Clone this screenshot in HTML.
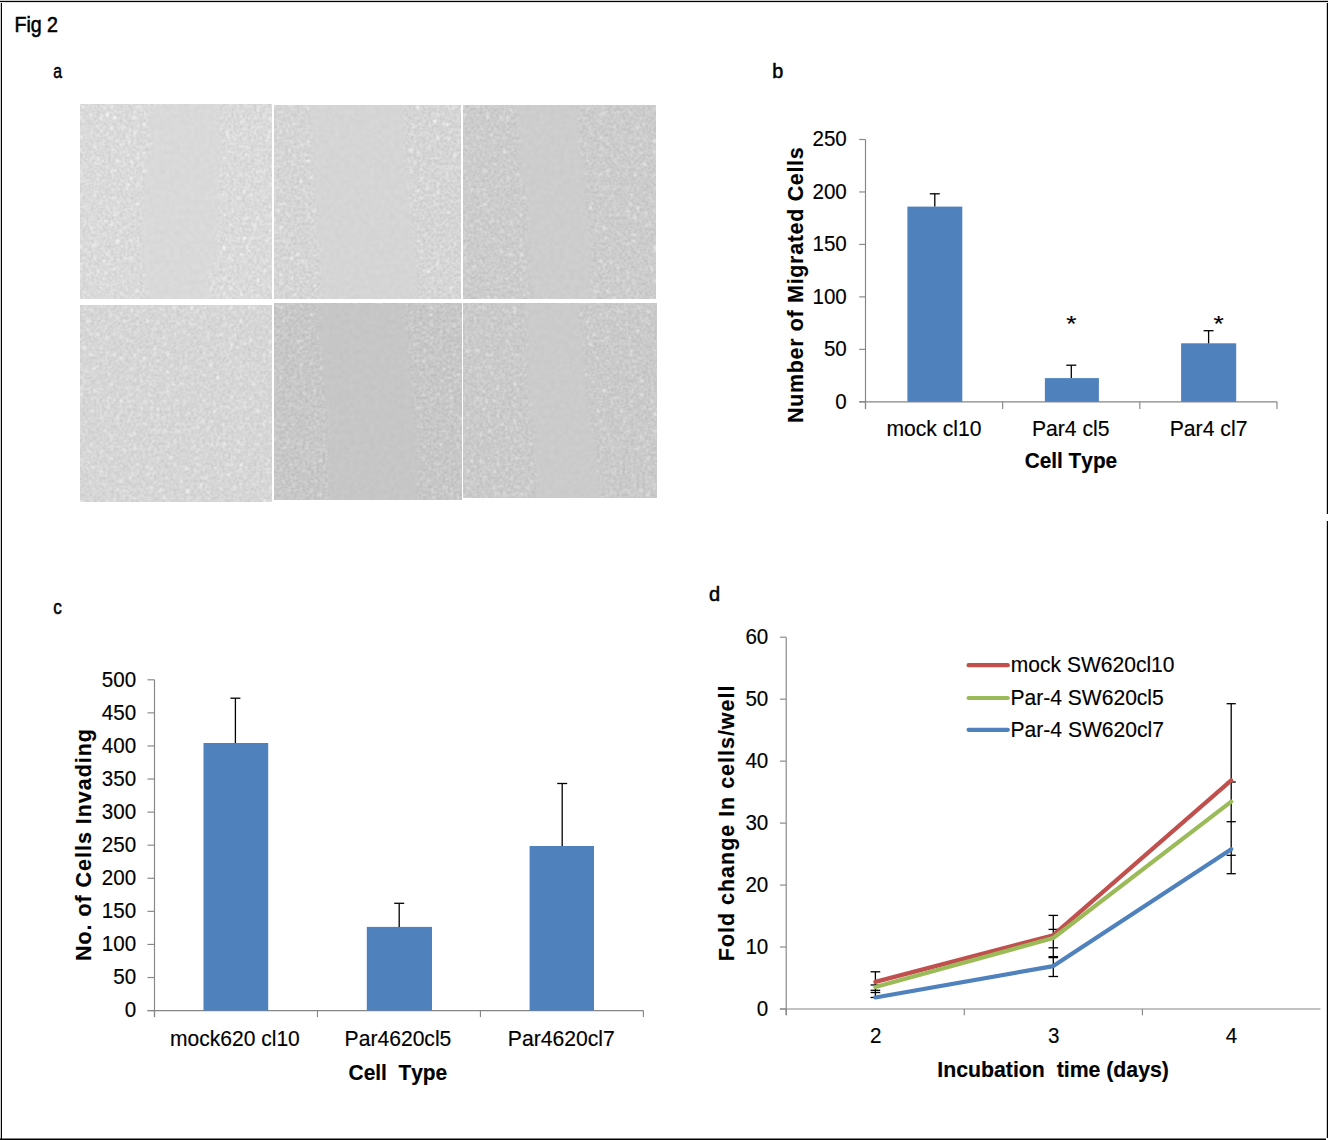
<!DOCTYPE html>
<html><head><meta charset="utf-8"><style>
html,body{margin:0;padding:0;background:#fff;overflow:hidden;}
svg{display:block;}
text{font-family:"Liberation Sans", sans-serif;fill:#000;font-kerning:none;stroke:#000;stroke-width:0.15px;}
.lbl text{stroke-width:0.55px;}
</style></head><body>
<svg width="1328" height="1140" viewBox="0 0 1328 1140">
<rect x="0" y="0" width="1328" height="1140" fill="#fff"/>

<g fill="#000">
<rect x="0" y="0.8" width="1328" height="1.3"/>
<rect x="0.8" y="3" width="1.2" height="1137"/>
<rect x="1326.8" y="3" width="1.2" height="511"/>
<rect x="1326.8" y="521" width="1.2" height="617"/>
<rect x="0" y="1138.5" width="1326" height="1.5"/>
</g>
<g class="lbl">
<text x="-1.76" y="0" font-size="21.5" letter-spacing="0.000" transform="translate(16.00,31.80) scale(0.9121,1)">Fig 2</text>
<text x="-0.87" y="0" font-size="20.5" letter-spacing="0.000" transform="translate(53.90,78.30) scale(0.7692,1)">a</text>
<text x="-1.32" y="0" font-size="20.5" letter-spacing="0.000" transform="translate(773.60,78.30) scale(0.9654,1)">b</text>
<text x="-0.87" y="0" font-size="20.5" letter-spacing="0.000" transform="translate(53.90,614.30) scale(0.8372,1)">c</text>
<text x="-0.86" y="0" font-size="20.5" letter-spacing="0.000" transform="translate(709.90,601.10) scale(0.9762,1)">d</text>
</g>
<defs>
<filter id="soft" x="-10%" y="-10%" width="120%" height="120%"><feGaussianBlur stdDeviation="2.5"/></filter>
<filter id="tx0" x="0" y="0" width="100%" height="100%" color-interpolation-filters="sRGB"><feTurbulence type="fractalNoise" baseFrequency="0.35" numOctaves="2" seed="3" result="n1"/><feColorMatrix in="n1" type="matrix" values="0.130 0 0 0 0.7852  0.130 0 0 0 0.7852  0.130 0 0 0 0.7852  0 0 0 0 1" result="base"/><feTurbulence type="fractalNoise" baseFrequency="0.3" numOctaves="1" seed="10" result="n2"/><feColorMatrix in="n2" type="matrix" values="0 0 0 0 1  0 0 0 0 1  0 0 0 0 1  5 0 0 0 -3.1" result="spk0"/><feGaussianBlur in="spk0" stdDeviation="0.9" result="spk"/><feComposite in="spk" in2="base" operator="arithmetic" k1="0" k2="0.2" k3="1" k4="0" result="c"/></filter>
<filter id="gp0" x="0" y="0" width="100%" height="100%" color-interpolation-filters="sRGB"><feTurbulence type="fractalNoise" baseFrequency="0.2" numOctaves="2" seed="53"/><feColorMatrix type="matrix" values="0.040 0 0 0 0.8310  0.040 0 0 0 0.8310  0.040 0 0 0 0.8310  0 0 0 0 1"/></filter>
<mask id="cp0" maskUnits="userSpaceOnUse" x="80" y="104.5" width="191.5" height="194.2"><polygon points="151,100 216,100 219.5,150 217.5,200 215,250 206,280 210,303 150,303 143.5,250 144,190 151.5,150" fill="#fff" filter="url(#soft)"/></mask>
<filter id="tx1" x="0" y="0" width="100%" height="100%" color-interpolation-filters="sRGB"><feTurbulence type="fractalNoise" baseFrequency="0.35" numOctaves="2" seed="5" result="n1"/><feColorMatrix in="n1" type="matrix" values="0.130 0 0 0 0.7656  0.130 0 0 0 0.7656  0.130 0 0 0 0.7656  0 0 0 0 1" result="base"/><feTurbulence type="fractalNoise" baseFrequency="0.3" numOctaves="1" seed="12" result="n2"/><feColorMatrix in="n2" type="matrix" values="0 0 0 0 1  0 0 0 0 1  0 0 0 0 1  5 0 0 0 -3.1" result="spk0"/><feGaussianBlur in="spk0" stdDeviation="0.9" result="spk"/><feComposite in="spk" in2="base" operator="arithmetic" k1="0" k2="0.2" k3="1" k4="0" result="c"/></filter>
<filter id="gp1" x="0" y="0" width="100%" height="100%" color-interpolation-filters="sRGB"><feTurbulence type="fractalNoise" baseFrequency="0.2" numOctaves="2" seed="55"/><feColorMatrix type="matrix" values="0.040 0 0 0 0.8153  0.040 0 0 0 0.8153  0.040 0 0 0 0.8153  0 0 0 0 1"/></filter>
<mask id="cp1" maskUnits="userSpaceOnUse" x="274.5" y="105.4" width="186.5" height="193.3"><polygon points="310.2,100 400.5,100 404,150 408.4,200 414.6,250 416.3,303 323.3,303 320.7,250 316.3,200 312.8,150" fill="#fff" filter="url(#soft)"/></mask>
<filter id="tx2" x="0" y="0" width="100%" height="100%" color-interpolation-filters="sRGB"><feTurbulence type="fractalNoise" baseFrequency="0.35" numOctaves="2" seed="7" result="n1"/><feColorMatrix in="n1" type="matrix" values="0.130 0 0 0 0.7303  0.130 0 0 0 0.7303  0.130 0 0 0 0.7303  0 0 0 0 1" result="base"/><feTurbulence type="fractalNoise" baseFrequency="0.3" numOctaves="1" seed="14" result="n2"/><feColorMatrix in="n2" type="matrix" values="0 0 0 0 1  0 0 0 0 1  0 0 0 0 1  5 0 0 0 -3.1" result="spk0"/><feGaussianBlur in="spk0" stdDeviation="0.9" result="spk"/><feComposite in="spk" in2="base" operator="arithmetic" k1="0" k2="0.2" k3="1" k4="0" result="c"/></filter>
<filter id="gp2" x="0" y="0" width="100%" height="100%" color-interpolation-filters="sRGB"><feTurbulence type="fractalNoise" baseFrequency="0.2" numOctaves="2" seed="57"/><feColorMatrix type="matrix" values="0.040 0 0 0 0.7839  0.040 0 0 0 0.7839  0.040 0 0 0 0.7839  0 0 0 0 1"/></filter>
<mask id="cp2" maskUnits="userSpaceOnUse" x="463" y="105.4" width="193" height="193.4"><polygon points="519,100 576,100 579.5,150 584.7,200 590,250 590.9,303 533.9,303 529.5,250 527.7,200 520.7,150" fill="#fff" filter="url(#soft)"/></mask>
<filter id="tx3" x="0" y="0" width="100%" height="100%" color-interpolation-filters="sRGB"><feTurbulence type="fractalNoise" baseFrequency="0.35" numOctaves="2" seed="9" result="n1"/><feColorMatrix in="n1" type="matrix" values="0.120 0 0 0 0.7745  0.120 0 0 0 0.7745  0.120 0 0 0 0.7745  0 0 0 0 1" result="base"/><feTurbulence type="fractalNoise" baseFrequency="0.3" numOctaves="1" seed="16" result="n2"/><feColorMatrix in="n2" type="matrix" values="0 0 0 0 1  0 0 0 0 1  0 0 0 0 1  5 0 0 0 -3.1" result="spk0"/><feGaussianBlur in="spk0" stdDeviation="0.9" result="spk"/><feComposite in="spk" in2="base" operator="arithmetic" k1="0" k2="0.2" k3="1" k4="0" result="c"/></filter>
<filter id="tx4" x="0" y="0" width="100%" height="100%" color-interpolation-filters="sRGB"><feTurbulence type="fractalNoise" baseFrequency="0.35" numOctaves="2" seed="11" result="n1"/><feColorMatrix in="n1" type="matrix" values="0.130 0 0 0 0.7107  0.130 0 0 0 0.7107  0.130 0 0 0 0.7107  0 0 0 0 1" result="base"/><feTurbulence type="fractalNoise" baseFrequency="0.3" numOctaves="1" seed="18" result="n2"/><feColorMatrix in="n2" type="matrix" values="0 0 0 0 1  0 0 0 0 1  0 0 0 0 1  5 0 0 0 -3.1" result="spk0"/><feGaussianBlur in="spk0" stdDeviation="0.9" result="spk"/><feComposite in="spk" in2="base" operator="arithmetic" k1="0" k2="0.2" k3="1" k4="0" result="c"/></filter>
<filter id="gp4" x="0" y="0" width="100%" height="100%" color-interpolation-filters="sRGB"><feTurbulence type="fractalNoise" baseFrequency="0.2" numOctaves="2" seed="61"/><feColorMatrix type="matrix" values="0.040 0 0 0 0.7565  0.040 0 0 0 0.7565  0.040 0 0 0 0.7565  0 0 0 0 1"/></filter>
<mask id="cp4" maskUnits="userSpaceOnUse" x="274.4" y="303.8" width="187.4" height="195.8"><polygon points="317.8,299 402,299 407.3,350 412.5,400 417.8,450 417.8,504 331.8,504 330,450 327.5,400 321.3,350" fill="#fff" filter="url(#soft)"/></mask>
<filter id="tx5" x="0" y="0" width="100%" height="100%" color-interpolation-filters="sRGB"><feTurbulence type="fractalNoise" baseFrequency="0.35" numOctaves="2" seed="13" result="n1"/><feColorMatrix in="n1" type="matrix" values="0.130 0 0 0 0.7225  0.130 0 0 0 0.7225  0.130 0 0 0 0.7225  0 0 0 0 1" result="base"/><feTurbulence type="fractalNoise" baseFrequency="0.3" numOctaves="1" seed="20" result="n2"/><feColorMatrix in="n2" type="matrix" values="0 0 0 0 1  0 0 0 0 1  0 0 0 0 1  5 0 0 0 -3.1" result="spk0"/><feGaussianBlur in="spk0" stdDeviation="0.9" result="spk"/><feComposite in="spk" in2="base" operator="arithmetic" k1="0" k2="0.2" k3="1" k4="0" result="c"/></filter>
<filter id="gp5" x="0" y="0" width="100%" height="100%" color-interpolation-filters="sRGB"><feTurbulence type="fractalNoise" baseFrequency="0.2" numOctaves="2" seed="63"/><feColorMatrix type="matrix" values="0.040 0 0 0 0.7761  0.040 0 0 0 0.7761  0.040 0 0 0 0.7761  0 0 0 0 1"/></filter>
<mask id="cp5" maskUnits="userSpaceOnUse" x="463.1" y="303.8" width="193.4" height="194"><polygon points="526.4,299 578.4,299 585.7,400 592,430 597.6,480 598.5,502 538,502 535.2,430 530,400" fill="#fff" filter="url(#soft)"/></mask>
</defs>
<rect x="80" y="104.5" width="191.5" height="194.2" filter="url(#tx0)"/>
<g mask="url(#cp0)"><rect x="80" y="104.5" width="191.5" height="194.2" filter="url(#gp0)"/></g>
<rect x="274.5" y="105.4" width="186.5" height="193.3" filter="url(#tx1)"/>
<g mask="url(#cp1)"><rect x="274.5" y="105.4" width="186.5" height="193.3" filter="url(#gp1)"/></g>
<rect x="463" y="105.4" width="193" height="193.4" filter="url(#tx2)"/>
<g mask="url(#cp2)"><rect x="463" y="105.4" width="193" height="193.4" filter="url(#gp2)"/></g>
<rect x="80.5" y="305.3" width="191.1" height="196.1" filter="url(#tx3)"/>
<rect x="274.4" y="303.8" width="187.4" height="195.8" filter="url(#tx4)"/>
<g mask="url(#cp4)"><rect x="274.4" y="303.8" width="187.4" height="195.8" filter="url(#gp4)"/></g>
<rect x="463.1" y="303.8" width="193.4" height="194" filter="url(#tx5)"/>
<g mask="url(#cp5)"><rect x="463.1" y="303.8" width="193.4" height="194" filter="url(#gp5)"/></g>
<g stroke="#868686" stroke-width="1.15" fill="none">
<line x1="865.5" y1="139.5" x2="865.5" y2="409.1"/>
<line x1="859.2" y1="401.8" x2="1277" y2="401.8"/>
<line x1="859.2" y1="401.80" x2="865.5" y2="401.80"/>
<line x1="859.2" y1="349.34" x2="865.5" y2="349.34"/>
<line x1="859.2" y1="296.88" x2="865.5" y2="296.88"/>
<line x1="859.2" y1="244.42" x2="865.5" y2="244.42"/>
<line x1="859.2" y1="191.96" x2="865.5" y2="191.96"/>
<line x1="859.2" y1="139.50" x2="865.5" y2="139.50"/>
<line x1="865.50" y1="401.8" x2="865.50" y2="409.1"/>
<line x1="1002.67" y1="401.8" x2="1002.67" y2="409.1"/>
<line x1="1139.83" y1="401.8" x2="1139.83" y2="409.1"/>
<line x1="1277.00" y1="401.8" x2="1277.00" y2="409.1"/>
</g>
<rect x="907.4" y="206.6" width="54.90" height="195.20" fill="#4F81BD"/>
<g stroke="#000" stroke-width="1.3"><line x1="934.80" y1="193.80" x2="934.80" y2="206.60"/>
<line x1="929.80" y1="193.80" x2="939.80" y2="193.80"/>
</g>
<rect x="1044.9" y="378.1" width="54.00" height="23.70" fill="#4F81BD"/>
<g stroke="#000" stroke-width="1.3"><line x1="1071.30" y1="365.20" x2="1071.30" y2="378.10"/>
<line x1="1066.30" y1="365.20" x2="1076.30" y2="365.20"/>
</g>
<rect x="1181.1" y="343.3" width="55.10" height="58.50" fill="#4F81BD"/>
<g stroke="#000" stroke-width="1.3"><line x1="1208.60" y1="330.70" x2="1208.60" y2="343.30"/>
<line x1="1203.60" y1="330.70" x2="1213.60" y2="330.70"/>
</g>
<text x="-0.88" y="0" font-size="22.5" letter-spacing="0.000" transform="translate(836.16,408.60) scale(0.9150,1)">0</text>
<text x="-0.90" y="0" font-size="22.5" letter-spacing="0.000" transform="translate(824.73,356.14) scale(0.9150,1)">50</text>
<text x="-1.71" y="0" font-size="22.5" letter-spacing="0.000" transform="translate(814.02,303.68) scale(0.9150,1)">100</text>
<text x="-1.71" y="0" font-size="22.5" letter-spacing="0.000" transform="translate(814.02,251.22) scale(0.9150,1)">150</text>
<text x="-1.13" y="0" font-size="22.5" letter-spacing="0.000" transform="translate(813.49,198.76) scale(0.9150,1)">200</text>
<text x="-1.13" y="0" font-size="22.5" letter-spacing="0.000" transform="translate(813.49,146.30) scale(0.9150,1)">250</text>
<text x="-1.43" y="0" font-size="21.5" letter-spacing="0.000" transform="translate(887.90,436.00) scale(0.9819,1)">mock cl10</text>
<text x="-1.76" y="0" font-size="21.5" letter-spacing="0.000" transform="translate(1033.60,436.00) scale(0.9842,1)">Par4 cl5</text>
<text x="-1.76" y="0" font-size="21.5" letter-spacing="0.000" transform="translate(1171.40,436.00) scale(0.9865,1)">Par4 cl7</text>
<text x="-0.88" y="0" font-size="21.5" font-weight="bold" letter-spacing="0.000" transform="translate(1025.50,468.00) scale(0.9684,1)">Cell Type</text>
<text x="-1.44" y="0" font-size="21.5" font-weight="bold" letter-spacing="0.665" transform="translate(803.20,421.60) rotate(-90) scale(1.0000,1)">Number of Migrated Cells</text>
<text x="-0.35" y="0" font-size="21.5" letter-spacing="0.000" transform="translate(1066.60,330.50) scale(1.2232,1)">*</text>
<text x="-0.35" y="0" font-size="21.5" letter-spacing="0.000" transform="translate(1213.90,330.50) scale(1.2232,1)">*</text>
<g stroke="#868686" stroke-width="1.15" fill="none">
<line x1="154.5" y1="679.8" x2="154.5" y2="1017.1"/>
<line x1="147.5" y1="1010.6" x2="643.4" y2="1010.6"/>
<line x1="147.5" y1="1010.60" x2="154.5" y2="1010.60"/>
<line x1="147.5" y1="977.52" x2="154.5" y2="977.52"/>
<line x1="147.5" y1="944.44" x2="154.5" y2="944.44"/>
<line x1="147.5" y1="911.36" x2="154.5" y2="911.36"/>
<line x1="147.5" y1="878.28" x2="154.5" y2="878.28"/>
<line x1="147.5" y1="845.20" x2="154.5" y2="845.20"/>
<line x1="147.5" y1="812.12" x2="154.5" y2="812.12"/>
<line x1="147.5" y1="779.04" x2="154.5" y2="779.04"/>
<line x1="147.5" y1="745.96" x2="154.5" y2="745.96"/>
<line x1="147.5" y1="712.88" x2="154.5" y2="712.88"/>
<line x1="147.5" y1="679.80" x2="154.5" y2="679.80"/>
<line x1="154.50" y1="1010.6" x2="154.50" y2="1017.1"/>
<line x1="317.47" y1="1010.6" x2="317.47" y2="1017.1"/>
<line x1="480.43" y1="1010.6" x2="480.43" y2="1017.1"/>
<line x1="643.40" y1="1010.6" x2="643.40" y2="1017.1"/>
</g>
<rect x="203.5" y="743.0" width="64.70" height="267.60" fill="#4F81BD"/>
<g stroke="#000" stroke-width="1.3"><line x1="235.40" y1="698.20" x2="235.40" y2="743.00"/>
<line x1="230.40" y1="698.20" x2="240.40" y2="698.20"/>
</g>
<rect x="366.8" y="926.9" width="65.20" height="83.70" fill="#4F81BD"/>
<g stroke="#000" stroke-width="1.3"><line x1="399.20" y1="903.30" x2="399.20" y2="926.90"/>
<line x1="394.20" y1="903.30" x2="404.20" y2="903.30"/>
</g>
<rect x="529.6" y="846.0" width="64.40" height="164.60" fill="#4F81BD"/>
<g stroke="#000" stroke-width="1.3"><line x1="562.20" y1="783.50" x2="562.20" y2="846.00"/>
<line x1="557.20" y1="783.50" x2="567.20" y2="783.50"/>
</g>
<text x="-0.88" y="0" font-size="22.5" letter-spacing="0.000" transform="translate(125.56,1017.40) scale(0.9150,1)">0</text>
<text x="-0.90" y="0" font-size="22.5" letter-spacing="0.000" transform="translate(114.13,984.32) scale(0.9150,1)">50</text>
<text x="-1.71" y="0" font-size="22.5" letter-spacing="0.000" transform="translate(103.42,951.24) scale(0.9150,1)">100</text>
<text x="-1.71" y="0" font-size="22.5" letter-spacing="0.000" transform="translate(103.42,918.16) scale(0.9150,1)">150</text>
<text x="-1.13" y="0" font-size="22.5" letter-spacing="0.000" transform="translate(102.89,885.08) scale(0.9150,1)">200</text>
<text x="-1.13" y="0" font-size="22.5" letter-spacing="0.000" transform="translate(102.89,852.00) scale(0.9150,1)">250</text>
<text x="-0.86" y="0" font-size="22.5" letter-spacing="0.000" transform="translate(102.64,818.92) scale(0.9150,1)">300</text>
<text x="-0.86" y="0" font-size="22.5" letter-spacing="0.000" transform="translate(102.64,785.84) scale(0.9150,1)">350</text>
<text x="-0.52" y="0" font-size="22.5" letter-spacing="0.000" transform="translate(102.33,752.76) scale(0.9150,1)">400</text>
<text x="-0.52" y="0" font-size="22.5" letter-spacing="0.000" transform="translate(102.33,719.68) scale(0.9150,1)">450</text>
<text x="-0.90" y="0" font-size="22.5" letter-spacing="0.000" transform="translate(102.68,686.60) scale(0.9150,1)">500</text>
<text x="-1.43" y="0" font-size="21.5" letter-spacing="0.000" transform="translate(171.40,1045.50) scale(0.9786,1)">mock620 cl10</text>
<text x="-1.76" y="0" font-size="21.5" letter-spacing="0.000" transform="translate(346.30,1045.50) scale(0.9821,1)">Par4620cl5</text>
<text x="-1.76" y="0" font-size="21.5" letter-spacing="0.000" transform="translate(509.50,1045.50) scale(0.9837,1)">Par4620cl7</text>
<text x="-0.88" y="0" font-size="21.5" font-weight="bold" letter-spacing="0.000" transform="translate(349.40,1079.80) scale(0.9726,1)">Cell&#160; Type</text>
<text x="-1.44" y="0" font-size="21.5" font-weight="bold" letter-spacing="0.967" transform="translate(91.00,959.60) rotate(-90) scale(1.0000,1)">No. of Cells Invading</text>
<g stroke="#868686" stroke-width="1.15" fill="none">
<line x1="786.2" y1="637.2" x2="786.2" y2="1015.3"/>
<line x1="779.9000000000001" y1="1009.0" x2="1320.5" y2="1009.0"/>
<line x1="779.9000000000001" y1="1009.00" x2="786.2" y2="1009.00"/>
<line x1="779.9000000000001" y1="947.03" x2="786.2" y2="947.03"/>
<line x1="779.9000000000001" y1="885.07" x2="786.2" y2="885.07"/>
<line x1="779.9000000000001" y1="823.10" x2="786.2" y2="823.10"/>
<line x1="779.9000000000001" y1="761.13" x2="786.2" y2="761.13"/>
<line x1="779.9000000000001" y1="699.17" x2="786.2" y2="699.17"/>
<line x1="779.9000000000001" y1="637.20" x2="786.2" y2="637.20"/>
<line x1="786.20" y1="1009.0" x2="786.20" y2="1015.3"/>
<line x1="964.30" y1="1009.0" x2="964.30" y2="1015.3"/>
<line x1="1142.40" y1="1009.0" x2="1142.40" y2="1015.3"/>
</g>
<text x="-0.88" y="0" font-size="22.5" letter-spacing="0.000" transform="translate(757.66,1015.80) scale(0.9150,1)">0</text>
<text x="-1.71" y="0" font-size="22.5" letter-spacing="0.000" transform="translate(746.97,953.83) scale(0.9150,1)">10</text>
<text x="-1.13" y="0" font-size="22.5" letter-spacing="0.000" transform="translate(746.44,891.87) scale(0.9150,1)">20</text>
<text x="-0.86" y="0" font-size="22.5" letter-spacing="0.000" transform="translate(746.19,829.90) scale(0.9150,1)">30</text>
<text x="-0.52" y="0" font-size="22.5" letter-spacing="0.000" transform="translate(745.88,767.93) scale(0.9150,1)">40</text>
<text x="-0.90" y="0" font-size="22.5" letter-spacing="0.000" transform="translate(746.23,705.97) scale(0.9150,1)">50</text>
<text x="-1.14" y="0" font-size="22.5" letter-spacing="0.000" transform="translate(746.45,644.00) scale(0.9150,1)">60</text>
<text x="-1.13" y="0" font-size="22.5" letter-spacing="0.000" transform="translate(871.01,1043.20) scale(0.9150,1)">2</text>
<text x="-0.86" y="0" font-size="22.5" letter-spacing="0.000" transform="translate(1048.72,1043.20) scale(0.9150,1)">3</text>
<text x="-0.52" y="0" font-size="22.5" letter-spacing="0.000" transform="translate(1226.31,1043.20) scale(0.9150,1)">4</text>
<g stroke="#000" stroke-width="1.3"><line x1="875.40" y1="971.80" x2="875.40" y2="997.50"/>
<line x1="870.55" y1="971.80" x2="880.25" y2="971.80"/>
<line x1="870.55" y1="985.00" x2="880.25" y2="985.00"/>
<line x1="870.55" y1="990.30" x2="880.25" y2="990.30"/>
<line x1="870.55" y1="992.50" x2="880.25" y2="992.50"/>
<line x1="870.55" y1="997.50" x2="880.25" y2="997.50"/>
</g>
<g stroke="#000" stroke-width="1.3"><line x1="1053.30" y1="915.40" x2="1053.30" y2="976.50"/>
<line x1="1048.50" y1="915.40" x2="1058.10" y2="915.40"/>
<line x1="1048.50" y1="929.40" x2="1058.10" y2="929.40"/>
<line x1="1048.50" y1="947.80" x2="1058.10" y2="947.80"/>
<line x1="1048.50" y1="956.60" x2="1058.10" y2="956.60"/>
<line x1="1048.50" y1="957.60" x2="1058.10" y2="957.60"/>
<line x1="1048.50" y1="976.50" x2="1058.10" y2="976.50"/>
</g>
<g stroke="#000" stroke-width="1.3"><line x1="1231.20" y1="703.70" x2="1231.20" y2="873.70"/>
<line x1="1226.60" y1="703.70" x2="1235.80" y2="703.70"/>
<line x1="1226.60" y1="782.00" x2="1235.80" y2="782.00"/>
<line x1="1226.60" y1="821.70" x2="1235.80" y2="821.70"/>
<line x1="1226.60" y1="855.30" x2="1235.80" y2="855.30"/>
<line x1="1226.60" y1="873.70" x2="1235.80" y2="873.70"/>
</g>
<polyline points="875.40,981.90 1053.30,935.20 1231.20,780.30" fill="none" stroke="#C0504D" stroke-width="4.2" stroke-linejoin="round" stroke-linecap="round"/>
<polyline points="875.40,987.00 1053.30,938.00 1231.20,801.70" fill="none" stroke="#9BBB59" stroke-width="4.2" stroke-linejoin="round" stroke-linecap="round"/>
<polyline points="875.40,997.50 1053.30,966.10 1231.20,849.20" fill="none" stroke="#4F81BD" stroke-width="4.2" stroke-linejoin="round" stroke-linecap="round"/>
<line x1="968.6" y1="665.2" x2="1007.8" y2="665.2" stroke="#C0504D" stroke-width="4.2" stroke-linecap="round"/>
<line x1="968.6" y1="698.0" x2="1007.8" y2="698.0" stroke="#9BBB59" stroke-width="4.2" stroke-linecap="round"/>
<line x1="968.6" y1="729.8" x2="1007.8" y2="729.8" stroke="#4F81BD" stroke-width="4.2" stroke-linecap="round"/>
<text x="-1.43" y="0" font-size="21.5" letter-spacing="0.000" transform="translate(1012.20,672.30) scale(0.9787,1)">mock SW620cl10</text>
<text x="-1.76" y="0" font-size="21.5" letter-spacing="0.000" transform="translate(1012.20,705.00) scale(0.9800,1)">Par-4 SW620cl5</text>
<text x="-1.76" y="0" font-size="21.5" letter-spacing="0.000" transform="translate(1012.20,737.00) scale(0.9812,1)">Par-4 SW620cl7</text>
<text x="-1.44" y="0" font-size="21.5" font-weight="bold" letter-spacing="0.000" transform="translate(938.70,1077.00) scale(0.9904,1)">Incubation&#160; time (days)</text>
<text x="-1.44" y="0" font-size="21.5" font-weight="bold" letter-spacing="0.982" transform="translate(734.20,959.80) rotate(-90) scale(1.0000,1)">Fold change In cells/well</text>
</svg></body></html>
